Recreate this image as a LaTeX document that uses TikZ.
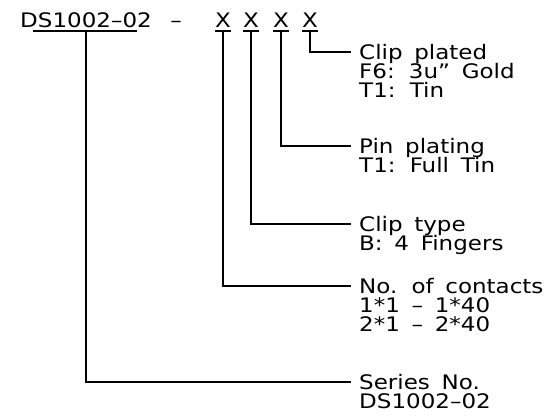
\documentclass[tikz,border=0pt]{standalone}
\usepackage{fontspec}
\newfontfamily\cadfont[FakeStretch=1.15,WordSpace=1.6]{DejaVu Sans}
\begin{document}
\begin{tikzpicture}[x=1pt,y=-1pt,
  txt/.style={font=\cadfont\fontsize{20}{20}\selectfont, inner sep=0pt, anchor=base west},
  lead/.style={line width=1.2pt}]
\useasboundingbox (0,0) rectangle (556,418);
% header
\node[txt] (hdr) at (20,27) {DS1002–02};
\node[txt, anchor=base] (dash) at (176,27) {–};
\foreach \n/\x in {1/223, 2/251, 3/281, 4/310}
  \node[txt, anchor=base] (x\n) at (\x,27) {X};
\coordinate (su1) at (33,31);
\coordinate (su2) at (137,31);
\coordinate (sv) at (86,31);
\draw[lead] (su1) -- (su2);
\foreach \n in {1,2,3,4}
  \draw[lead] ([yshift=-4pt]x\n.base west) -- ([yshift=-4pt]x\n.base east);
% leader ends
\coordinate (e4) at (351,52);
\coordinate (e3) at (351,146);
\coordinate (e2) at (351,224);
\coordinate (e1) at (351,286);
\coordinate (e0) at (351,382);
\draw[lead] ([yshift=-4pt]x4.base) |- (e4);
\draw[lead] ([yshift=-4pt]x3.base) |- (e3);
\draw[lead] ([yshift=-4pt]x2.base) |- (e2);
\draw[lead] ([yshift=-4pt]x1.base) |- (e1);
\draw[lead] (sv) |- (e0);
% labels
\node[txt] (a1) at (359,59) {Clip plated};
\node[txt] (a2) at (359,78) {F6: 3u” Gold};
\node[txt] (a3) at (359,97) {T1: Tin};
\node[txt] (b1) at (359,153) {Pin plating};
\node[txt] (b2) at (359,172) {T1: Full Tin};
\node[txt] (c1) at (359,231) {Clip type};
\node[txt] (c2) at (359,250) {B: 4 Fingers};
\node[txt] (d1) at (359,293) {No. of contacts};
\node[txt] (d2) at (359,312) {1*1 – 1*40};
\node[txt] (d3) at (359,331) {2*1 – 2*40};
\node[txt] (s1) at (359,389) {Series No.};
\node[txt] (s2) at (359,408) {DS1002–02};
\end{tikzpicture}
\end{document}
